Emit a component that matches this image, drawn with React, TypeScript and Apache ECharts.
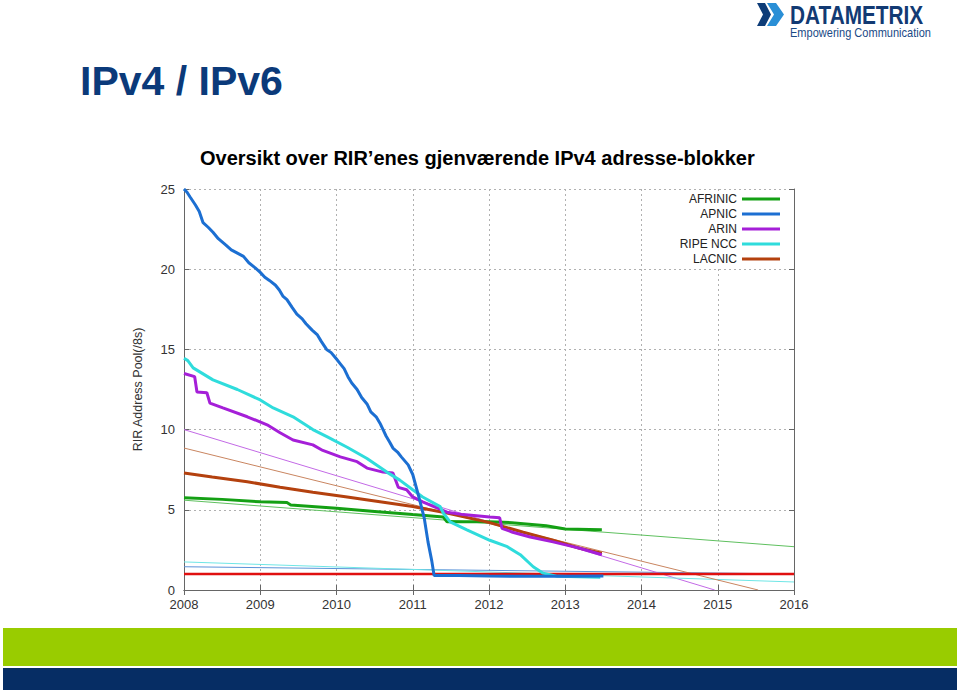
import React, { useEffect, useRef } from "react";
import * as echarts from "echarts";

const regions = ["AFRINIC", "APNIC", "ARIN", "RIPE NCC", "LACNIC"];
const regionColors = ["#14a014", "#1c6fd2", "#a51fd8", "#2fdcdc", "#b4410e"];
const trendColors = ["#5fc05f", "#5a92d8", "#c36ae6", "#6fe6e6", "#c98560"];
const yearTicks = [2008, 2009, 2010, 2011, 2012, 2013, 2014, 2015, 2016];

const afrinic: number[][] = [
  [2008.0, 5.75], [2008.5, 5.65], [2009.0, 5.5], [2009.35, 5.45], [2009.4, 5.3],
  [2010.0, 5.1], [2010.5, 4.9], [2011.0, 4.7], [2011.4, 4.55], [2011.45, 4.25],
  [2012.0, 4.25], [2012.3, 4.2], [2012.75, 4.0], [2013.0, 3.8], [2013.48, 3.75],
];
const apnic: number[][] = [
  [2008.0, 25.0], [2008.04, 24.8], [2008.08, 24.5], [2008.15, 24.0], [2008.2, 23.6],
  [2008.25, 22.9], [2008.32, 22.6], [2008.38, 22.3], [2008.45, 21.9], [2008.55, 21.5],
  [2008.62, 21.2], [2008.7, 21.0], [2008.78, 20.8], [2008.85, 20.4], [2008.93, 20.1],
  [2009.0, 19.8], [2009.06, 19.5], [2009.12, 19.3], [2009.2, 19.0], [2009.25, 18.7],
  [2009.3, 18.3], [2009.35, 18.1], [2009.42, 17.6], [2009.48, 17.2], [2009.55, 16.9],
  [2009.6, 16.6], [2009.68, 16.2], [2009.75, 15.9], [2009.8, 15.5], [2009.87, 15.0],
  [2009.93, 14.8], [2010.0, 14.4], [2010.05, 14.1], [2010.1, 13.8], [2010.15, 13.3],
  [2010.2, 12.9], [2010.27, 12.5], [2010.33, 12.0], [2010.4, 11.6], [2010.45, 11.1],
  [2010.52, 10.8], [2010.57, 10.4], [2010.62, 9.9], [2010.65, 9.6], [2010.7, 9.2],
  [2010.74, 8.85], [2010.8, 8.6], [2010.85, 8.3], [2010.94, 7.8], [2011.0, 7.2],
  [2011.08, 5.8], [2011.15, 4.5], [2011.2, 3.0], [2011.25, 1.8], [2011.28, 0.9],
  [2011.6, 0.9], [2012.0, 0.87], [2012.5, 0.85], [2013.0, 0.85], [2013.5, 0.88],
];
const arin: number[][] = [
  [2008.0, 13.5], [2008.14, 13.3], [2008.17, 12.35], [2008.3, 12.3], [2008.34, 11.65],
  [2008.51, 11.35], [2008.83, 10.8], [2009.09, 10.3], [2009.26, 9.8], [2009.43, 9.35],
  [2009.69, 9.05], [2009.82, 8.7], [2010.05, 8.3], [2010.27, 8.0], [2010.4, 7.6],
  [2010.61, 7.35], [2010.74, 7.3], [2010.81, 6.4], [2010.92, 6.25], [2011.0, 5.8],
  [2011.13, 5.5], [2011.45, 4.85], [2011.66, 4.7], [2012.01, 4.55], [2012.14, 4.5],
  [2012.17, 3.85], [2012.31, 3.6], [2012.54, 3.3], [2012.84, 3.0], [2013.06, 2.75],
  [2013.19, 2.6], [2013.48, 2.2],
];
const ripeNcc: number[][] = [
  [2008.0, 14.45], [2008.05, 14.3], [2008.12, 13.85], [2008.38, 13.1], [2008.7, 12.5],
  [2009.0, 11.85], [2009.17, 11.35], [2009.43, 10.8], [2009.69, 10.0], [2009.88, 9.55],
  [2010.14, 8.9], [2010.4, 8.2], [2010.66, 7.35], [2010.83, 6.85], [2011.0, 6.25],
  [2011.13, 5.8], [2011.36, 5.2], [2011.4, 4.8], [2011.49, 4.25], [2011.71, 3.75],
  [2012.01, 3.1], [2012.24, 2.7], [2012.41, 2.2], [2012.58, 1.45], [2012.71, 1.05],
  [2012.9, 0.85], [2013.46, 0.8],
];
const lacnic: number[][] = [
  [2008.0, 7.3], [2008.37, 7.05], [2008.83, 6.75], [2009.26, 6.4], [2009.69, 6.1],
  [2010.14, 5.8], [2010.57, 5.5], [2011.0, 5.2], [2011.45, 4.8], [2012.01, 4.2],
  [2012.45, 3.6], [2012.84, 3.1], [2013.19, 2.6], [2013.48, 2.3],
];
const afrinicTrend: number[][] = [[2008, 5.6], [2016, 2.7]];
const apnicTrend: number[][] = [[2008, 1.45], [2016, 1.0]];
const arinTrend: number[][] = [[2008, 10.0], [2014.96, 0]];
const ripeNccTrend: number[][] = [[2008, 1.75], [2016, 0.5]];
const lacnicTrend: number[][] = [[2008, 8.85], [2015.53, 0]];
const reservedLine: number[][] = [[2008, 1.0], [2016, 1.0]];

const thickData = [afrinic, apnic, arin, ripeNcc, lacnic];
const trendData = [afrinicTrend, apnicTrend, arinTrend, ripeNccTrend, lacnicTrend];

export default function App() {
  const ref = useRef<HTMLDivElement>(null);
  useEffect(() => {
    if (!ref.current) return;
    const chart = echarts.init(ref.current, null, { renderer: "svg" });
    const font = "Arial, 'Liberation Sans', sans-serif";
    const axisColor = "#666";
    const series: any[] = [];
    trendData.forEach((d, i) => {
      series.push({
        name: regions[i] + " trend",
        type: "line",
        data: d,
        showSymbol: false,
        z: 2,
        lineStyle: { width: 1, color: trendColors[i] },
        itemStyle: { color: trendColors[i] },
      });
    });
    series.push({
      name: "Reserve",
      type: "line",
      data: reservedLine,
      showSymbol: false,
      z: 3,
      lineStyle: { width: 2.5, color: "#e01010" },
      itemStyle: { color: "#e01010" },
    });
    const order = [0, 4, 2, 3, 1];
    order.forEach((i) => {
      series.push({
        name: regions[i],
        type: "line",
        data: thickData[i],
        showSymbol: false,
        z: 4,
        lineStyle: { width: 3, color: regionColors[i] },
        itemStyle: { color: regionColors[i] },
      });
    });

    chart.setOption({
      animation: false,
      backgroundColor: "#ffffff",
      grid: { left: 184, right: 166, top: 189, bottom: 101, containLabel: false },
      legend: {
        data: regions,
        orient: "vertical",
        right: 178,
        top: 191,
        align: "right",
        icon: "rect",
        itemWidth: 38,
        itemHeight: 3,
        itemGap: 1,
        padding: [1, 2, 1, 4],
        backgroundColor: "#ffffff",
        textStyle: { fontFamily: font, fontSize: 12, color: "#222", width: 50, align: "right", lineHeight: 14 },
      },
      xAxis: [
        {
          type: "value",
          min: 2008,
          max: 2016,
          interval: 1,
          axisLine: { show: true, lineStyle: { color: axisColor, width: 1 } },
          axisTick: { show: true, inside: true, length: 5, lineStyle: { color: axisColor } },
          axisLabel: {
            fontFamily: font,
            fontSize: 13,
            color: "#333",
            margin: 8,
            formatter: (v: number) => (yearTicks.indexOf(v) >= 0 ? String(v) : ""),
          },
          splitLine: { show: true, lineStyle: { color: "#b0b0b0", type: [2, 3], width: 1 } },
        },
        {
          type: "value",
          position: "top",
          min: 2008,
          max: 2016,
          interval: 1,
          axisLine: { show: true, lineStyle: { color: axisColor, width: 1 } },
          axisTick: { show: true, inside: true, length: 5, lineStyle: { color: axisColor } },
          axisLabel: { show: false },
          splitLine: { show: false },
        },
      ],
      yAxis: [
        {
          type: "value",
          min: 0,
          max: 25,
          interval: 5,
          name: "RIR Address Pool(/8s)",
          nameLocation: "middle",
          nameGap: 40,
          nameTextStyle: { fontFamily: font, fontSize: 12.5, color: "#333" },
          axisLine: { show: true, lineStyle: { color: axisColor, width: 1 } },
          axisTick: { show: true, inside: true, length: 5, lineStyle: { color: axisColor } },
          axisLabel: { fontFamily: font, fontSize: 13, color: "#333", margin: 9 },
          splitLine: { show: true, lineStyle: { color: "#b0b0b0", type: [2, 3], width: 1 } },
        },
        {
          type: "value",
          position: "right",
          min: 0,
          max: 25,
          interval: 5,
          axisLine: { show: true, lineStyle: { color: axisColor, width: 1 } },
          axisTick: { show: true, inside: true, length: 5, lineStyle: { color: axisColor } },
          axisLabel: { show: false },
          splitLine: { show: false },
        },
      ],
      series,
      graphic: [
        {
          type: "text",
          x: 80,
          y: 81,
          style: { text: "IPv4 / IPv6", font: "bold 41px Arial, 'Liberation Sans', sans-serif", fill: "#0b3a7a", verticalAlign: "middle" },
        },
        {
          type: "text",
          x: 200,
          y: 158,
          style: {
            text: "Oversikt over RIR\u2019enes gjenv\u00e6rende IPv4 adresse-blokker",
            font: "bold 20px Arial, 'Liberation Sans', sans-serif",
            fill: "#000",
            verticalAlign: "middle",
          },
        },
        {
          type: "polygon",
          shape: { points: [[757, 3], [765, 3], [771, 14.5], [765, 26], [757, 26], [763, 14.5]] },
          style: { fill: "#0d3c78" },
        },
        {
          type: "polygon",
          shape: { points: [[767, 3], [776, 3], [784, 14.5], [776, 26], [767, 26], [774, 14.5]] },
          style: { fill: "#2a8fd6" },
        },
        {
          type: "text",
          x: 790,
          y: 15.5,
          scaleX: 0.8,
          style: { text: "DATAMETRIX", font: "bold 26px Arial, 'Liberation Sans', sans-serif", fill: "#123a73", verticalAlign: "middle" },
        },
        {
          type: "text",
          x: 790,
          y: 33,
          scaleX: 0.92,
          style: { text: "Empowering Communication", font: "12px Arial, 'Liberation Sans', sans-serif", fill: "#1a4a86", verticalAlign: "middle" },
        },
        {
          type: "rect",
          shape: { x: 3, y: 628, width: 954, height: 38 },
          style: { fill: "#99cc00" },
        },
        {
          type: "rect",
          shape: { x: 3, y: 668, width: 954, height: 22 },
          style: { fill: "#062d64" },
        },
      ],
    });
    return () => chart.dispose();
  }, []);
  return (
    <div
      ref={ref}
      style={{ position: "fixed", left: 0, top: 0, width: 960, height: 691, background: "#fff" }}
    />
  );
}
